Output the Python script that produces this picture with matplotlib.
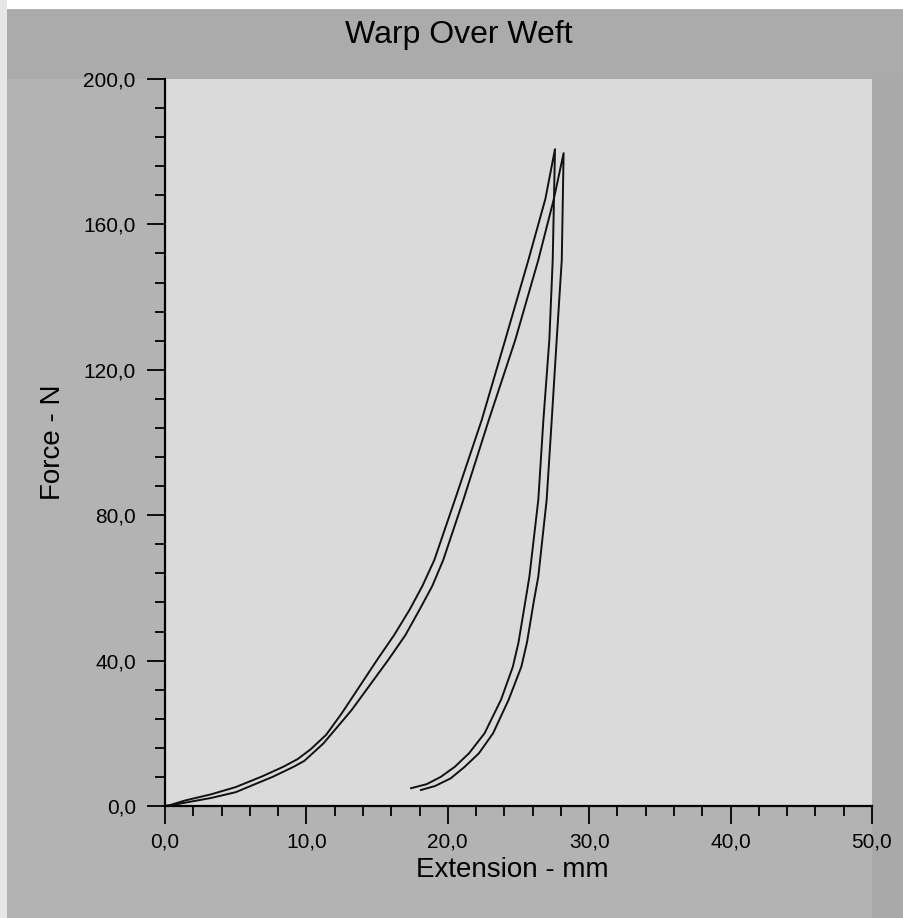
import matplotlib
matplotlib.use("Agg")
import matplotlib.pyplot as plt
from matplotlib.patches import Rectangle
from matplotlib.ticker import MultipleLocator

plt.rcParams['font.family'] = ['Liberation Sans', 'DejaVu Sans']

# loading / unloading curves (extension mm, force N)
load_a_x = [0.0, 0.4, 1.4, 3.25, 5.0, 6.84, 8.37, 9.38, 10.3, 11.4, 12.5, 15.0,
            16.2, 17.3, 18.2, 19.05, 20.5, 22.4, 24.06, 25.7, 26.9, 27.58]
load_a_f = [0.0, 0.3, 1.5, 3.2, 5.2, 8.1, 10.8, 12.9, 15.6, 19.6, 25.5, 40.2,
            47.0, 54.0, 60.5, 67.7, 84.2, 106.2, 128.2, 150.2, 167.0, 180.7]
unload_a_x = [27.58, 27.42, 27.18, 26.76, 26.4, 25.77, 25.5, 25.0, 24.6, 23.76,
              22.6, 21.5, 20.5, 19.5, 18.5, 17.4]
unload_a_f = [180.7, 150.2, 128.2, 106.2, 84.2, 63.1, 56.7, 45.0, 38.3, 29.2,
              20.0, 14.5, 10.8, 8.0, 6.0, 4.9]

load_b_x = [0.0, 0.4, 1.4, 3.25, 5.0, 7.66, 9.1, 9.85, 11.2, 13.2, 15.79,
            17.0, 18.0, 18.9, 19.68, 21.1, 22.9, 24.77, 26.4, 27.5, 28.19]
load_b_f = [0.0, 0.2, 0.9, 2.2, 3.8, 8.1, 10.8, 12.4, 17.2, 26.4, 40.2,
            47.0, 54.0, 60.5, 67.7, 84.2, 106.2, 128.2, 150.2, 167.0, 179.6]
unload_b_x = [28.19, 28.06, 27.7, 27.35, 26.99, 26.4, 26.1, 25.6, 25.2, 24.3,
              23.2, 22.2, 21.2, 20.2, 19.1, 18.1]
unload_b_f = [179.6, 150.2, 128.2, 106.2, 84.2, 63.1, 56.7, 45.0, 38.3, 29.2,
              20.0, 14.5, 10.8, 7.6, 5.5, 4.4]

x_ticks = [0, 10, 20, 30, 40, 50]
x_labels = ['0,0', '10,0', '20,0', '30,0', '40,0', '50,0']
y_ticks = [0, 40, 80, 120, 160, 200]
y_labels = ['0,0', '40,0', '80,0', '120,0', '160,0', '200,0']

W, H = 904, 918
fig = plt.figure(figsize=(W / 100, H / 100), dpi=100, facecolor='#b3b3b3')

# background panels
fig.patches.append(Rectangle((0, 0), 1, 1, transform=fig.transFigure,
                             facecolor='#b3b3b3', edgecolor='none', zorder=-3))
fig.patches.append(Rectangle((0, (H - 79) / H), 1, 69 / H, transform=fig.transFigure,
                             facecolor='#ababab', edgecolor='none', zorder=-2))
fig.patches.append(Rectangle((872 / W, 0), 1 - 872 / W, (H - 79) / H, transform=fig.transFigure,
                             facecolor='#a9a9a9', edgecolor='none', zorder=-2))
fig.patches.append(Rectangle((0, (H - 9) / H), 1, 9 / H, transform=fig.transFigure,
                             facecolor='white', edgecolor='none', zorder=-1))
fig.patches.append(Rectangle((0, 0), 7 / W, 1, transform=fig.transFigure,
                             facecolor='#e6e6e6', edgecolor='none', zorder=-1))

left, right, top, bottom = 165, 872, 79, 806
ax = fig.add_axes([left / W, (H - bottom) / H, (right - left) / W, (bottom - top) / H])
ax.set_facecolor('#dadada')

ax.plot(load_a_x + unload_a_x, load_a_f + unload_a_f, color='#111111', lw=1.4)
ax.plot(load_b_x + unload_b_x, load_b_f + unload_b_f, color='#111111', lw=1.4)

ax.set_xlim(0, 50)
ax.set_ylim(0, 200)
ax.set_xticks(x_ticks)
ax.set_xticklabels(x_labels)
ax.set_yticks(y_ticks)
ax.set_yticklabels(y_labels)
ax.xaxis.set_minor_locator(MultipleLocator(2))
ax.yaxis.set_minor_locator(MultipleLocator(8))
ax.tick_params(which='major', direction='out', length=13, width=1.3, labelsize=15, pad=6)
ax.tick_params(which='minor', direction='out', length=7, width=1.3)
ax.tick_params(axis='y', which='major', pad=8)

for s in ['top', 'right']:
    ax.spines[s].set_visible(False)
for s in ['left', 'bottom']:
    ax.spines[s].set_linewidth(1.6)

ax.set_xlabel('Extension - mm', fontsize=20)
ax.xaxis.set_label_coords(0.491, -0.070)
ax.set_ylabel('Force - N', fontsize=20, va='center')
ax.yaxis.set_label_coords(-0.159, 0.5)

fig.text(459 / W, (H - 43) / H, 'Warp Over Weft', fontsize=23, ha='center', va='baseline')

fig.savefig('out.png', dpi=100, facecolor=fig.get_facecolor())
